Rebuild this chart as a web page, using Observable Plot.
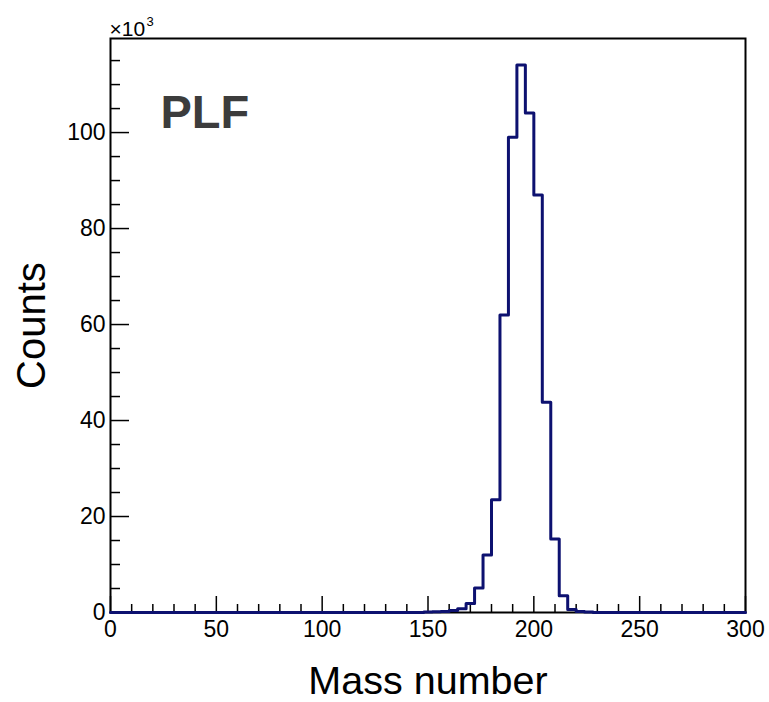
<!DOCTYPE html>
<html>
<head>
<meta charset="utf-8">
<script src="https://cdn.jsdelivr.net/npm/d3@7"></script>
<script src="https://cdn.jsdelivr.net/npm/@observablehq/plot@0.6"></script>
<style>
  html, body { margin: 0; padding: 0; background: #ffffff; }
  #chart svg { display: block; }
</style>
</head>
<body>
<div id="chart"></div>
<script>
// Histogram: 75 bins of width 4 over mass number 0..300 (counts in thousands)
const binWidth = 4;
const counts = [
  0, 0, 0, 0, 0, 0, 0, 0, 0, 0,      // 0-40
  0, 0, 0, 0, 0, 0, 0, 0, 0, 0,      // 40-80
  0, 0, 0, 0, 0, 0, 0, 0, 0, 0,      // 80-120
  0, 0, 0, 0, 0, 0, 0, 0.1, 0.15, 0.2, // 120-160
  0.4, 0.8, 1.9, 5.1, 12.0, 23.5, 62.0, 99.0, 114.1, 104.1, // 160-200
  87.0, 43.8, 15.3, 3.5, 0.6, 0.2, 0.1, 0, 0, 0, // 200-240
  0, 0, 0, 0, 0, 0, 0, 0, 0, 0,      // 240-280
  0, 0, 0, 0, 0                       // 280-300
];
const xMajor = [0, 50, 100, 150, 200, 250, 300];
const xMinor = [10,20,30,40,60,70,80,90,110,120,130,140,160,170,180,190,210,220,230,240,260,270,280,290];
const yMajor = [0, 20, 40, 60, 80, 100];
const yMinor = [5,10,15,25,30,35,45,50,55,65,70,75,85,90,95,105,110,115];
const xTitle = "Mass number";
const yTitle = "Counts";
const exponentBase = "×10";
const exponentPower = "3";
const tagLabel = "PLF";

const steps = counts.flatMap((c, i) => [
  {x: i * binWidth, y: c},
  {x: (i + 1) * binWidth, y: c}
]);

const W = 769, H = 702;
const mL = 110, mR = 24, mT = 38, mB = 90;
const frameH = H - mT - mB, frameW = W - mL - mR;
const font = "'Liberation Sans', Arial, Helvetica, sans-serif";

const chart = Plot.plot({
  width: W,
  height: H,
  marginLeft: mL,
  marginRight: mR,
  marginTop: mT,
  marginBottom: mB,
  style: {background: "#ffffff", fontFamily: font, fontSize: "23px", overflow: "visible", color: "#000"},
  x: {domain: [0, 300]},
  y: {domain: [0, 119.6]},
  marks: [
    Plot.axisX({ticks: xMajor, tickSize: 0, tickPadding: 8, fontSize: 23, fill: "#000", label: null}),
    Plot.axisY({ticks: yMajor, tickSize: 0, tickPadding: 5, fontSize: 23, fill: "#000", label: null}),
    Plot.ruleX(xMajor, {x: d => d, insetTop: frameH - 16, stroke: "#000", strokeWidth: 1.5}),
    Plot.ruleX(xMinor, {x: d => d, insetTop: frameH - 8, stroke: "#000", strokeWidth: 1.5}),
    Plot.ruleY(yMajor, {y: d => d, insetRight: frameW - 19, stroke: "#000", strokeWidth: 1.5}),
    Plot.ruleY(yMinor, {y: d => d, insetRight: frameW - 10, stroke: "#000", strokeWidth: 1.5}),
    Plot.frame({stroke: "#000", strokeWidth: 2}),
    Plot.line(steps, {x: "x", y: "y", stroke: "#0d1170", strokeWidth: 3, curve: "linear"}),
    Plot.text([xTitle], {frameAnchor: "bottom", dy: 81, lineAnchor: "bottom", textAnchor: "middle", text: d => d, fontSize: 39.5, fill: "#000"}),
    Plot.text([yTitle], {frameAnchor: "left", dx: -66, rotate: -90, lineAnchor: "bottom", textAnchor: "middle", text: d => d, fontSize: 40, fill: "#000"}),
    Plot.text([exponentBase], {frameAnchor: "top-left", dx: -1, dy: -3, lineAnchor: "bottom", textAnchor: "start", text: d => d, fontSize: 21, fill: "#000"}),
    Plot.text([exponentPower], {frameAnchor: "top-left", dx: 36, dy: -13, lineAnchor: "bottom", textAnchor: "start", text: d => d, fontSize: 13, fill: "#000"}),
    Plot.text([tagLabel], {frameAnchor: "top-left", dx: 50, dy: 89, lineAnchor: "bottom", textAnchor: "start", text: d => d, fontSize: 47, fontWeight: "bold", fill: "#3c3c3c"})
  ]
});
document.getElementById("chart").appendChild(chart);
</script>
</body>
</html>
